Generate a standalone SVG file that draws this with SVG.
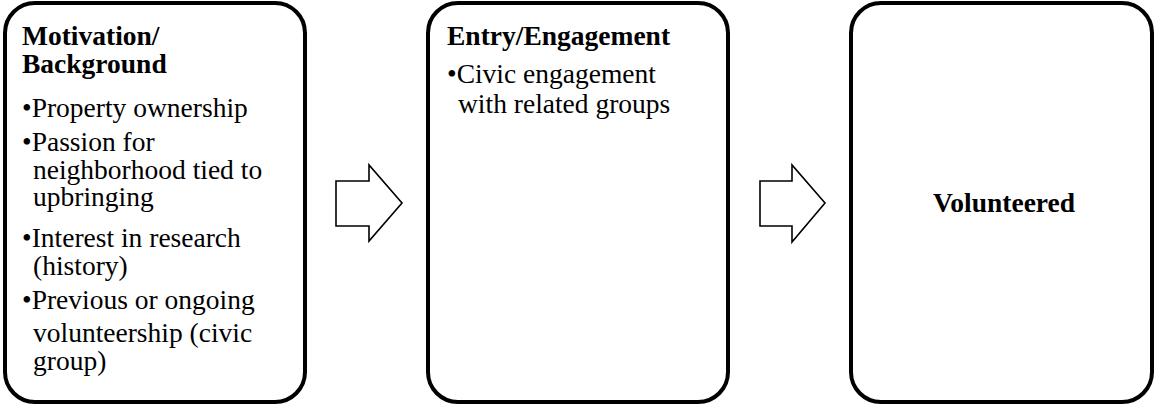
<svg xmlns="http://www.w3.org/2000/svg" width="1156" height="407" viewBox="0 0 1156 407">
  <style>
    .box { fill: #ffffff; stroke: #000000; stroke-width: 4; }
    .arrow { fill: #ffffff; stroke: #000000; stroke-width: 1.6; stroke-linejoin: miter; }
    .t { font-family: "Liberation Serif", "Times New Roman", serif; font-size: 27.5px; fill: #000000; }
    .b { font-weight: bold; }
  </style>
  <rect width="1156" height="407" fill="#ffffff"/>
  <g id="connectors">
    <polygon class="arrow" points="336,181 369,181 369,165 402,203 369,241 369,226 336,226"/>
    <polygon class="arrow" points="760,181 792,181 792,165 825,203 792,242 792,226 760,226"/>
  </g>
  <g id="node-motivation">
    <rect class="box" x="5" y="3" width="300" height="399" rx="30" ry="30"/>
    <text class="t b" x="22" y="45">Motivation/</text>
    <text class="t b" x="22" y="73">Background</text>
    <text class="t" x="22" y="117">•Property ownership</text>
    <text class="t" x="22" y="151">•Passion for</text>
    <text class="t" x="33" y="179">neighborhood tied to</text>
    <text class="t" x="33" y="206">upbringing</text>
    <text class="t" x="22" y="247">•Interest in research</text>
    <text class="t" x="33" y="275">(history)</text>
    <text class="t" x="22" y="309">•Previous or ongoing</text>
    <text class="t" x="33" y="342">volunteership (civic</text>
    <text class="t" x="33" y="370">group)</text>
  </g>
  <g id="node-entry">
    <rect class="box" x="428" y="3" width="300" height="399" rx="30" ry="30"/>
    <text class="t b" x="447" y="45">Entry/Engagement</text>
    <text class="t" x="447" y="83">•Civic engagement</text>
    <text class="t" x="458" y="113">with related groups</text>
  </g>
  <g id="node-volunteered">
    <rect class="box" x="851" y="3" width="301" height="399" rx="30" ry="30"/>
    <text class="t b" x="1004" y="212" text-anchor="middle">Volunteered</text>
  </g>
</svg>
